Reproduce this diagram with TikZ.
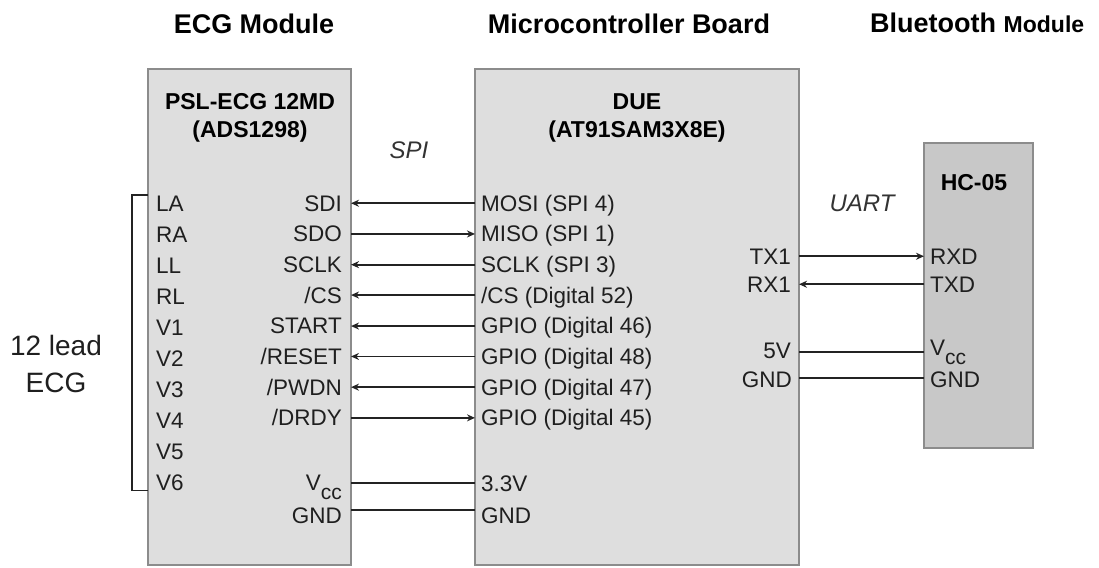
\documentclass[tikz,border=0pt]{standalone}
\usepackage{fontspec}
\setmainfont{Liberation Sans}
\usetikzlibrary{arrows.meta}
\definecolor{boxfill}{RGB}{222,222,222}
\definecolor{btfill}{RGB}{200,200,200}
\definecolor{boxline}{RGB}{140,140,140}
\definecolor{wire}{RGB}{35,35,35}
\tikzset{
  module/.style={draw=boxline,line width=1.6pt,fill=boxfill,inner sep=0pt,outer sep=0pt,anchor=north west},
  pin/.style={inner sep=0pt,text=black!88,font=\fontsize{22.5}{26}\selectfont},
  head/.style={inner sep=0pt,font=\fontsize{23}{26}\selectfont\bfseries},
  title/.style={inner sep=0pt,font=\fontsize{27}{30}\selectfont\bfseries},
  bus/.style={inner sep=0pt,text=black!80,font=\fontsize{24}{26}\selectfont\itshape},
  sig/.style={draw=wire,line width=1.8pt,-{Stealth[length=8pt,width=7pt]}},
  pwr/.style={draw=wire,line width=1.8pt},
}
\newcommand{\vcc}{V\raisebox{-9pt}{\fontsize{21}{22}\selectfont cc}}
\begin{document}
\begin{tikzpicture}[x=1pt,y=-1pt]
  \useasboundingbox (0,0) rectangle (1099,567);
  % titles
  \node[title] (t1) at (254,24) {ECG Module};
  \node[title] (t2) at (629,24) {Microcontroller Board};
  \node[title,anchor=base west] (t3) at (870,33) {Bluetooth {\fontsize{23}{24}\selectfont Module}};
  % modules
  \node[module,minimum width=203pt,minimum height=496pt] (ecg) at (148,69) {};
  \node[module,minimum width=324pt,minimum height=496pt] (mcu) at (475,69) {};
  \node[module,fill=btfill,minimum width=109pt,minimum height=305pt] (bt) at (924,143) {};
  \node[head] (ecgname) at (250,102) {PSL-ECG 12MD};
  \node[head] (ecgchip) at (250,132) {(ADS1298)};
  \node[head] (mcuname) at (637,102) {DUE};
  \node[head] (mcuchip) at (637,132) {(AT91SAM3X8E)};
  \node[head] (btname) at (974,183) {HC-05};
  \node[bus] (spi) at (409,150) {SPI};
  \node[bus] (uart) at (862,203) {UART};
  % electrodes
  \foreach \t [count=\i] in {LA,RA,LL,RL,V1,V2,V3,V4,V5,V6}
    \node[pin,anchor=base west] (in\i) at (156,{211+(\i-1)*31}) {\t};
  \draw[pwr] (ecg.west |- in1.north) -- ++(-16,0) |- (ecg.west |- in10.south);
  \node[pin,font=\fontsize{28}{30}\selectfont] (lead) at (56,345) {12 lead};
  \node[pin,font=\fontsize{28}{30}\selectfont] (leadb) at (56,383) {ECG};
  % spi side
  \foreach \a/\b [count=\i] in {SDI/MOSI (SPI 4),SDO/MISO (SPI 1),SCLK/SCLK (SPI 3),
      {/CS}/{/CS (Digital 52)},START/GPIO (Digital 46),{/RESET}/GPIO (Digital 48),
      {/PWDN}/GPIO (Digital 47),{/DRDY}/GPIO (Digital 45)}{
    \node[pin,anchor=base east] (s\i) at (342,{211+(\i-1)*30.7}) {\a};
    \node[pin,anchor=base west] (m\i) at (481,{211+(\i-1)*30.7}) {\b};}
  \foreach \i in {1,3,4,5,6,7}
    \draw[sig] (mcu.west |- s\i) -- (ecg.east |- s\i);
  \foreach \i in {2,8}
    \draw[sig] (ecg.east |- s\i) -- (mcu.west |- s\i);
  \node[pin,anchor=base east] (evcc) at (342,490) {\vcc};
  \node[pin,anchor=base east] (egnd) at (342,523) {GND};
  \node[pin,anchor=base west] (m33) at (481,491) {3.3V};
  \node[pin,anchor=base west] (mgnd) at (481,523) {GND};
  \draw[pwr] (ecg.east |- 0,483) coordinate (p1) -- (mcu.west |- p1);
  \draw[pwr] (ecg.east |- 0,510) coordinate (p2) -- (mcu.west |- p2);
  % uart side
  \node[pin,anchor=base east] (tx) at (791,264) {TX1};
  \node[pin,anchor=base east] (rx) at (791,292) {RX1};
  \node[pin,anchor=base east] (m5v) at (791,358) {5V};
  \node[pin,anchor=base east] (mgnd2) at (792,387) {GND};
  \node[pin,anchor=base west] (rxd) at (930,264) {RXD};
  \node[pin,anchor=base west] (txd) at (930,292) {TXD};
  \node[pin,anchor=base west] (bvcc) at (930,355) {\vcc};
  \node[pin,anchor=base west] (bgnd) at (930,387) {GND};
  \draw[sig] (mcu.east |- tx) -- (bt.west |- tx);
  \draw[sig] (bt.west |- rx) -- (mcu.east |- rx);
  \draw[pwr] (mcu.east |- 0,352) coordinate (p3) -- (bt.west |- p3);
  \draw[pwr] (mcu.east |- 0,378) coordinate (p4) -- (bt.west |- p4);
\end{tikzpicture}
\end{document}
